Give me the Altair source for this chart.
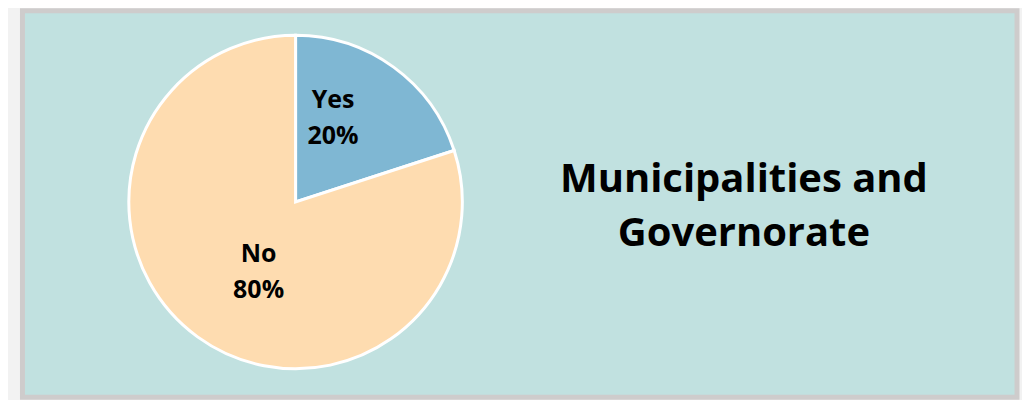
import altair as alt
import pandas as pd

categories = ["Yes", "No"]
values = [20, 80]
order = [0, 1]
colors = ["#7fb7d3", "#fedcb0"]
title_lines = ["Municipalities and", "Governorate"]

df = pd.DataFrame({"category": categories, "value": values, "idx": order})

FONT = "Open Sans"
# view origin on page: (22.5, 10.5)
CX, CY = 296 - 22.5, 202 - 10.5

base = alt.Chart(df).encode(
    theta=alt.Theta("value:Q", stack=True),
    order=alt.Order("idx:Q"),
    x=alt.value(CX),
    y=alt.value(CY),
)

arcs = base.mark_arc(outerRadius=167, stroke="white", strokeWidth=3).encode(
    color=alt.Color("category:N", scale=alt.Scale(domain=categories, range=colors), legend=None)
)

def label_layer(cat, dx, dy):
    return base.transform_calculate(
        lbl=f"datum.category == '{cat}' ? [datum.category, datum.value + '%'] : ''"
    ).mark_text(
        radius=80, dx=dx, dy=dy, font=FONT, fontWeight="bold", fontSize=25,
        lineHeight=36, align="center", baseline="middle", color="black"
    ).encode(text="lbl:N")

yes_lbl = label_layer("Yes", -9.5, -37)
no_lbl = label_layer("No", 10, -12.5)

title = alt.Chart(pd.DataFrame({"t": [0]})).mark_text(
    text=title_lines, font=FONT, fontWeight="bold", fontSize=40, lineHeight=54,
    align="center", baseline="alphabetic", color="black"
).encode(x=alt.value(745 - 22.5), y=alt.value(192 - 10.5))

chart = alt.layer(arcs, yes_lbl, no_lbl, title).properties(
    width=996, height=387,
    padding={"left": 14.5, "top": 2.5, "right": 5, "bottom": 2.5},
    background="#f2f2f2",
).configure_view(fill="#c1e1e0", stroke="#cecccc", strokeWidth=5)

chart.save("out.html", embed_options={"renderer": "svg", "actions": False})
